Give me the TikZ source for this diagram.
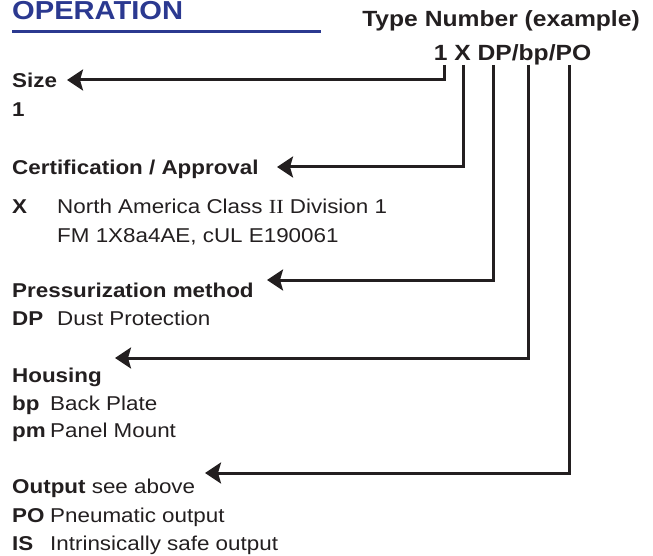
\documentclass[tikz,border=0pt]{standalone}
\usepackage{fontspec}
\setmainfont{Liberation Sans}[FakeStretch=1.12]
\newfontfamily\romanII{Liberation Serif}[FakeStretch=1.12]
\usetikzlibrary{arrows.meta,positioning}
\definecolor{encre}{RGB}{35,31,32}
\definecolor{bleuop}{RGB}{43,57,144}
\tikzset{
  titre/.style={font=\bfseries\fontsize{26}{30}\selectfont, text=bleuop, anchor=base west, inner sep=0pt},
  code/.style={font=\bfseries\fontsize{22}{26}\selectfont, text=encre, anchor=base, inner sep=0pt},
  rubrique/.style={font=\bfseries\fontsize{20}{24}\selectfont, text=encre, anchor=base west, inner sep=0pt},
  texte/.style={font=\fontsize{20}{24}\selectfont, text=encre, anchor=base west, inner sep=0pt},
  renvoi/.style={draw=encre, line width=3pt, -{Stealth[length=16pt,width=21pt,inset=3pt]}},
}

\begin{document}
\begin{tikzpicture}[x=1pt,y=-1pt]
\useasboundingbox (0,0) rectangle (653,556);

% title and type code
\node (op) [titre] at (12,19.5) {OPERATION};
\draw [bleuop, line width=3pt] (12,31.5) -- (321,31.5);
\node (tn) [code] at (501,27) {Type Number (example)};
\node (tc) [code] at (512.5,60.5) {1 X DP/bp/PO};

% tops of the leader lines, under the code letters
\coordinate (c1) at (444,65);
\coordinate (cX) at (463.5,65);
\coordinate (cDP) at (493,65);
\coordinate (cbp) at (528,65);
\coordinate (cPO) at (569,65);

% size
\node (size) [rubrique] at (12,88) {Size};
\node (size1) [rubrique] at (12,117) {1};
\coordinate (tipsize) at (67,80);

% certification
\node (cert) [rubrique] at (12,175) {Certification / Approval};
\node (kX) [rubrique] at (12,214) {X};
\node (dX) [texte] at (57,214) {North America Class {\romanII II} Division 1};
\node (dX2) [texte] at (57,242) {FM 1X8a4AE, cUL E190061};
\coordinate (tipcert) at (277,167);

% pressurization
\node (press) [rubrique] at (12,297) {Pressurization method};
\node (kDP) [rubrique] at (12,325) {DP};
\node (dDP) [texte] at (57,325) {Dust Protection};
\coordinate (tippress) at (267,280);

% housing
\node (hous) [rubrique] at (12,382) {Housing};
\node (kbp) [rubrique] at (12,410) {bp};
\node (dbp) [texte] at (50,410) {Back Plate};
\node (kpm) [rubrique] at (12,437) {pm};
\node (dpm) [texte] at (50,437) {Panel Mount};
\coordinate (tiphous) at (115,358);

% output
\node (outp) [rubrique] at (12,493) {Output\fontseries{m}\selectfont{} see above};
\node (kPO) [rubrique] at (12,522) {PO};
\node (dPO) [texte] at (50,522) {Pneumatic output};
\node (kIS) [rubrique] at (12,550) {IS};
\node (dIS) [texte] at (50,550) {Intrinsically safe output};
\coordinate (tipout) at (205,473);

\draw [renvoi] (c1) |- (tipsize);
\draw [renvoi] (cX) |- (tipcert);
\draw [renvoi] (cDP) |- (tippress);
\draw [renvoi] (cbp) |- (tiphous);
\draw [renvoi] (cPO) |- (tipout);

\end{tikzpicture}
\end{document}
